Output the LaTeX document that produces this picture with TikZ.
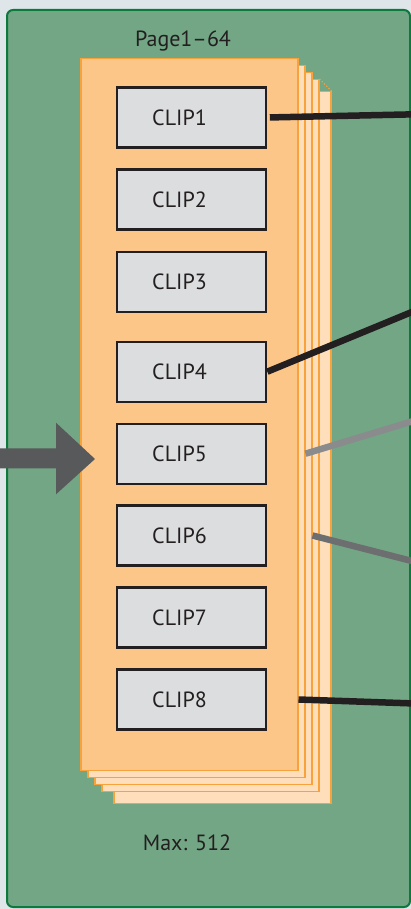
\documentclass[tikz,border=0pt]{standalone}
\usepackage{fontspec}
\setmainfont{PT Sans}
\usepackage{tikz}
\usetikzlibrary{calc}

\begin{document}
\begin{tikzpicture}[x=1pt,y=-1pt,
  pagesheet/.style={draw=pageLine,line width=1.5pt,minimum width=217pt,minimum height=711.5pt,inner sep=0pt,anchor=north west},
  clipbox/.style={draw=boxLine,line width=2.3pt,fill=boxFill,minimum width=149.3pt,minimum height=60pt,inner sep=0pt},
  cliplabel/.style={text=textColor,font=\fontsize{22}{26}\selectfont},
  wire/.style={line width=6.5pt}]
\definecolor{bgColor}{RGB}{222,230,233}
\definecolor{frameFill}{RGB}{115,166,133}
\definecolor{frameLine}{RGB}{11,122,60}
\definecolor{sheetFront}{RGB}{253,198,137}
\definecolor{sheetBack}{RGB}{255,222,188}
\definecolor{pageLine}{RGB}{247,162,59}
\definecolor{boxFill}{RGB}{220,221,222}
\definecolor{boxLine}{RGB}{35,31,32}
\definecolor{textColor}{RGB}{35,31,32}
\definecolor{wireDark}{RGB}{35,31,32}
\definecolor{wireLight}{RGB}{137,139,141}
\definecolor{wireMid}{RGB}{109,110,112}
\definecolor{arrowGray}{RGB}{88,89,91}

\path[use as bounding box,fill=bgColor] (0,0) rectangle (411,909);
\path[draw=frameLine,line width=2pt,fill=frameFill,rounded corners=6pt] (7,10) rectangle (410,907);

\node[cliplabel,anchor=base] (pagetitle) at (183,47) {Page1–64};
\node[cliplabel,anchor=base] (maxnote) at (187,850) {Max: 512};

% stack of pages, back to front
\node[pagesheet,fill=sheetBack] (page4) at (113,91) {};
\foreach \k in {3,2,1}
  \node[pagesheet,fill=sheetBack] (page\k) at (80+7*\k,58+7*\k) {};
\draw[pageLine,line width=1.2pt,dotted] (page3.north east) -- (page4.north east);
\node[pagesheet,fill=sheetFront] (page0) at (80,58) {};

\foreach \n/\y in {1/117.5,2/199.5,3/281.7,4/371.7,5/453.7,6/535.5,7/617.5,8/699.5}
  \node[clipbox,label={[cliplabel,xshift=-12pt]center:CLIP\n}] (clip\n) at (191.5,\y) {};

\coordinate (out1) at (415,114.3);
\coordinate (out4) at (415,310.7);
\coordinate (out5) at (415,420.5);
\coordinate (out6) at (415,561.8);
\coordinate (out8) at (415,703.5);

\draw[wire,draw=wireDark,shorten <=2.5pt] (clip1.east) -- (out1);
\draw[wire,draw=wireDark] (clip4.east) -- (out4);
\draw[wire,draw=wireLight] (page1.east |- clip5) -- (out5);
\draw[wire,draw=wireMid] (page2.east |- clip6) -- (out6);
\draw[wire,draw=wireDark] (page0.east |- clip8) -- (out8);

% feed arrow
\fill[arrowGray] (-2,448.3) -- (56,448.3) -- (56,422.7) -- (95,459) -- (56,494.3) -- (56,468.3) -- (-2,468.3) -- cycle;
\end{tikzpicture}
\end{document}
